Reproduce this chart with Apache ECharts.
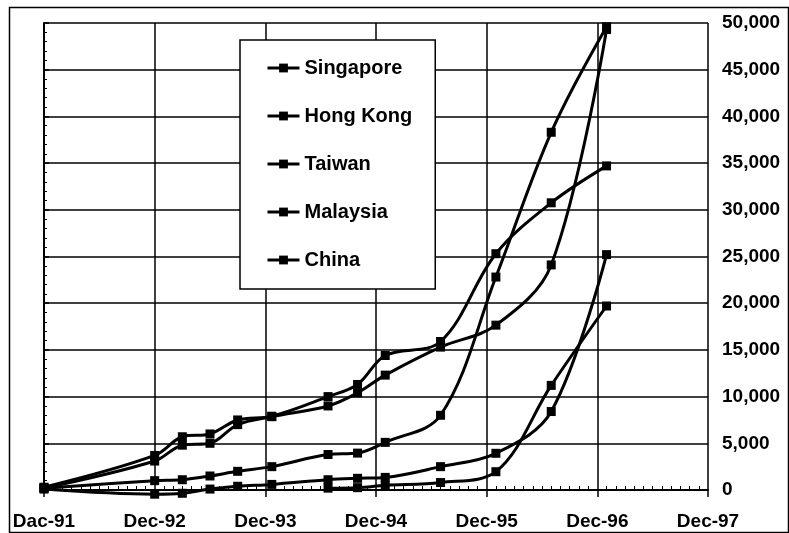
<!DOCTYPE html>
<html>
<head>
<meta charset="utf-8">
<script src="https://cdn.jsdelivr.net/npm/echarts@6/dist/echarts.min.js"></script>
<style>
html,body{margin:0;padding:0;background:#fff;}
#chart{width:789px;height:533px;}
</style>
</head>
<body>
<div id="chart"></div>
<script>
// Survey points: months after Dec-91
var months = [0, 12, 15, 18, 21, 24.7, 30.8, 34, 37, 43, 49, 55, 61];
var xTickLabels = ['Dac-91', 'Dec-92', 'Dec-93', 'Dec-94', 'Dec-95', 'Dec-96', 'Dec-97'];
var seriesNames = ['Singapore', 'Hong Kong', 'Taiwan', 'Malaysia', 'China'];
var singapore = [200, 1000, 1100, 1500, 2000, 2500, 3800, 3950, 5100, 8000, 22800, 38300, 49600];
var hongKong  = [200, 3100, 4800, 5000, 7000, 7850, 9000, 10400, 12300, 15300, 17650, 24100, 49300];
var taiwan    = [300, 3700, 5700, 6000, 7500, 7900, 10000, 11300, 14400, 15900, 25300, 30750, 34700];
var malaysia  = [100, -450, -350, 100, 400, 600, 1100, 1250, 1350, 2500, 3930, 8400, 25200];
var china     = [null, null, null, null, null, null, 200, 250, 500, 800, 1960, 11200, 19700];

var values = [singapore, hongKong, taiwan, malaysia, china];
var FONT = '"Liberation Sans", Arial, Helvetica, sans-serif';

function pairs(arr) {
  var out = [];
  for (var i = 0; i < months.length; i++) {
    if (arr[i] !== null) out.push([months[i], arr[i]]);
  }
  return out;
}

var series = seriesNames.map(function (name, i) {
  return {
    name: name,
    type: 'line',
    data: pairs(values[i]),
    smooth: 0.35,
    clip: false,
    symbol: 'rect',
    symbolSize: 9,
    showAllSymbol: true,
    lineStyle: { color: '#000', width: 3 },
    itemStyle: { color: '#000' },
    emphasis: { disabled: true },
    animation: false
  };
});

var chart = echarts.init(document.getElementById('chart'), null, { renderer: 'canvas' });
chart.setOption({
  backgroundColor: '#fff',
  animation: false,
  textStyle: { fontFamily: FONT },
  graphic: [{
    type: 'rect',
    left: 7, top: 5,
    shape: { width: 779, height: 525 },
    style: { fill: 'none', stroke: '#000', lineWidth: 1.5 },
    z: 0
  }],
  grid: { left: 44, right: 81, top: 23, bottom: 43, containLabel: false },
  legend: {
    orient: 'vertical',
    left: 240, top: 40,
    padding: [18, 23, 19, 26],
    itemGap: 28,
    itemWidth: 32,
    itemHeight: 11,
    backgroundColor: '#fff',
    borderColor: '#000',
    borderWidth: 1.5,
    lineStyle: { color: '#000', width: 3 },
    itemStyle: { color: '#000' },
    textStyle: { fontSize: 20, fontWeight: 'bold', color: '#000', fontFamily: FONT },
    data: seriesNames
  },
  xAxis: {
    type: 'value',
    min: 0, max: 72, interval: 12,
    axisLine: { show: true, onZero: false, lineStyle: { color: '#000', width: 2 } },
    axisTick: { show: true, length: 7, lineStyle: { color: '#000', width: 1.5 } },
    minorTick: { show: true, splitNumber: 12, length: -4, lineStyle: { color: '#000', width: 1 } },
    splitLine: { show: true, lineStyle: { color: '#000', width: 1.5 } },
    axisLabel: {
      margin: 22,
      fontSize: 19, fontWeight: 'bold', color: '#000', fontFamily: FONT,
      formatter: function (v) { return xTickLabels[Math.round(v / 12)] || ''; }
    }
  },
  yAxis: {
    type: 'value',
    position: 'right',
    min: 0, max: 50000, interval: 5000,
    axisLine: { show: true, lineStyle: { color: '#000', width: 2 } },
    axisTick: { show: true, length: 5, lineStyle: { color: '#000', width: 1.5 } },
    minorTick: { show: true, splitNumber: 5, length: 3, lineStyle: { color: '#000', width: 1 } },
    splitLine: { show: true, lineStyle: { color: '#000', width: 1.5 } },
    axisLabel: {
      margin: 14,
      fontSize: 19, fontWeight: 'bold', color: '#000', fontFamily: FONT,
      formatter: function (v) { return String(v).replace(/\B(?=(\d{3})+(?!\d))/g, ','); }
    }
  },
  series: series
});
</script>
</body>
</html>
